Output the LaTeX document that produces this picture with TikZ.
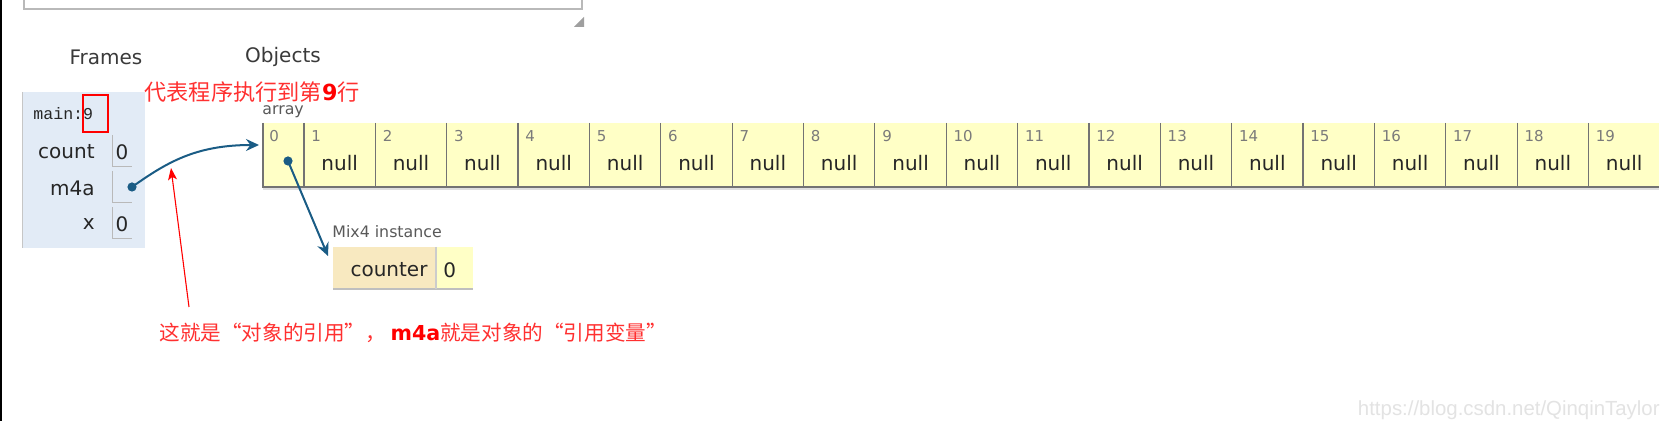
\documentclass[tikz,border=0pt]{standalone}
\usepackage{fontspec}
\setmainfont{DejaVu Sans}
\setmonofont{Liberation Mono}
\newfontfamily\cjk{Noto Sans CJK SC}
\newfontfamily\wmfont{Liberation Sans}
\usetikzlibrary{arrows.meta}
\definecolor{framebg}{HTML}{E2EBF6}
\definecolor{cellbg}{HTML}{FFFFC6}
\definecolor{keybg}{HTML}{F8E9C0}
\definecolor{ptr}{HTML}{1A5C85}
\definecolor{idxgray}{HTML}{7A7A7A}
\definecolor{hdrgray}{HTML}{3A3A3A}
\definecolor{notered}{HTML}{FF3030}

\begin{document}
\begin{tikzpicture}[x=0.5pt,y=-0.5pt,
	hdr/.style={text=hdrgray,font=\fontsize{10}{12}\selectfont},
	body/.style={text=black!85,font=\fontsize{10}{12}\selectfont},
	small/.style={text=black!65,font=\fontsize{7.9}{9}\selectfont,inner sep=0pt},
	idx/.style={text=idxgray,font=\fontsize{7.5}{9}\selectfont,inner sep=0pt,anchor=west},
	cellline/.style={draw=gray!90!black,line width=0.6pt},
	boxline/.style={draw=gray!55,line width=0.5pt},
	ptrdot/.style={circle,fill=ptr,inner sep=0pt,minimum size=4.6pt},
	ptrline/.style={draw=ptr,line width=1pt,-{Stealth[length=6.5pt,width=6pt,inset=2.2pt]}},
	notetxt/.style={text=notered,font=\cjk\fontsize{11.1}{13}\selectfont,inner sep=0pt},
	notearrow/.style={draw=red,line width=0.55pt,-{Stealth[length=6pt,width=4.5pt,inset=1.5pt]}}]
	\def\w{71.36}
	\useasboundingbox (0,0) rectangle (1666,421);
	\fill[white] (0,0) rectangle (1666,421);
	\draw[line width=1.3pt] (1,0) -- (1,421);
	% code box and its grip
	\draw[gray!55,fill=white,line width=0.6pt] (24,-6) rectangle (582,9);
	\fill[gray!75] (584,17) -- (584,27) -- (574,27) -- cycle;
	\node[hdr] (frames) at (106,57) {Frames};
	\node[hdr] (objects) at (283,57) {Objects};
	% frame
	\fill[framebg] (22,92) rectangle (145,248);
	\draw[gray!45,line width=0.7pt] (22.5,92) -- (22.5,248);
	\node[anchor=west,inner sep=0pt,text=black!85,font=\ttfamily\fontsize{8.3}{10}\selectfont] (mainlbl) at (33,114) {main:9};
	\draw[red,line width=1pt] (83,95) rectangle (108,132);
	\foreach \name/\y in {count/152, m4a/188, x/224} {
		\node[body,anchor=east,inner sep=0pt] (lbl-\name) at (95,\y) {\name};
		\draw[boxline] (112,\y-17) -- (112,\y+15) -- (132,\y+15);
	}
	\node[body,inner sep=0pt] (val-count) at (122,152) {0};
	\node[body,inner sep=0pt] (val-x) at (122,224) {0};
	\node[ptrdot] (m4adot) at (132,187) {};
	% array
	\node[small,anchor=west] (arraylbl) at (262,112) {array};
	\fill[cellbg] (263,123) rectangle (1659,187);
	\draw[gray!25,line width=1pt] (263,189) -- (1659,189);
	\draw[cellline] (263,123) -- (263,187) -- (1659,187);
	\node[idx] (idx0) at (269,136) {0};
	\foreach \i in {1,...,19} {
		\draw[cellline] ({304+(\i-1)*\w},123) -- ++(0,64);
		\node[idx] (idx\i) at ({304+(\i-1)*\w+7},136) {\i};
		\node[body,inner sep=0pt] (val\i) at ({304+(\i-0.5)*\w},163) {null};
	}
	\node[ptrdot] (elem0dot) at (288,161) {};
	% Mix4 object
	\node[small,anchor=west] (mixlbl) at (332,232) {Mix4 instance};
	\fill[keybg] (333,247) rectangle (436,289);
	\fill[cellbg] (436,247) rectangle (473,289);
	\draw[gray!50,line width=0.8pt] (333,289) -- (473,289);
	\draw[gray!40,line width=0.8pt] (436,247) -- (436,289);
	\node[body,inner sep=0pt] (counterkey) at (389,270) {counter};
	\node[body,anchor=west,inner sep=0pt] (counterval) at (443,270) {0};
	% pointers
	\coordinate (arrayin) at (259,145);
	\coordinate (mixin) at (328,256);
	\draw[ptrline] (m4adot.center) .. controls (166,163) and (195,145) .. (arrayin);
	\draw[ptrline] (elem0dot.center) -- (mixin);
	% red notes
	\node[notetxt,anchor=west] (linenote) at (144,92) {代表程序执行到第{\normalfont\bfseries\color{red}9}行};
	\node[notetxt,anchor=west,font=\cjk\fontsize{10.3}{12}\selectfont] (refnote) at (159,333) {这就是“对象的引用”，\ {\normalfont\bfseries\color{red}m4a}就是对象的“引用变量”};
	\coordinate (notetail) at (189,307);
	\coordinate (notehead) at (171,168);
	\draw[notearrow] (notetail) -- (notehead);
	\node[anchor=east,inner sep=0pt,text=gray!22,font=\wmfont\fontsize{10.2}{12}\selectfont] (watermark) at (1660,410) {https://blog.csdn.net/QinqinTaylor};
\end{tikzpicture}
\end{document}
